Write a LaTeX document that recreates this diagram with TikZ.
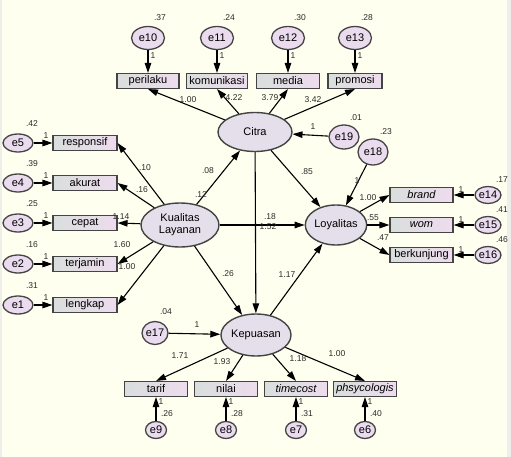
\documentclass[tikz,border=0pt]{standalone}
\usepackage{fontspec}
\setmainfont{Liberation Sans}
\usetikzlibrary{arrows.meta,shapes.geometric}
\definecolor{bgivory}{HTML}{FFFFF0}
\definecolor{rimgrey}{HTML}{EEEEEA}
\definecolor{latfill}{HTML}{E4DFEA}
\definecolor{errfill}{HTML}{EADCEE}
\definecolor{boxgrey}{HTML}{D9DEDC}
\definecolor{boxpink}{HTML}{EEDCEE}
\definecolor{edgegrey}{HTML}{444444}
\definecolor{esttext}{HTML}{2A2A2A}
\begin{document}
\begin{tikzpicture}[x=1pt,y=-1pt,>={Triangle[length=10pt,width=6.5pt]},
  latent/.style={ellipse,draw=edgegrey,line width=1.4pt,fill=latfill,inner sep=0pt,
    minimum width=74pt,minimum height=39pt,align=center,font=\fontsize{11}{12}\selectfont},
  err/.style={ellipse,draw=edgegrey,line width=1.3pt,fill=errfill,inner sep=0pt,
    font=\fontsize{11}{11}\selectfont},
  obs/.style={rectangle,draw=edgegrey,line width=1.1pt,left color=boxgrey,right color=boxpink,
    inner sep=0pt,minimum width=63pt,minimum height=15pt,font=\fontsize{11}{11}\selectfont},
  est/.style={font=\fontsize{8.5}{9}\selectfont,text=esttext,inner sep=0pt},
  link/.style={->,line width=1.1pt}]
\fill[bgivory] (0,0) rectangle (511,457);
\fill[rimgrey] (507,0) rectangle (511,457);
\fill[rimgrey] (0,0) rectangle (2,457);
\useasboundingbox (0,0) rectangle (511,457);

% latent variables
\node[latent] (citra) at (255,132) {Citra};
\node[latent,minimum width=78pt,minimum height=44pt] (kual) at (180,225) {Kualitas\\Layanan};
\node[latent,minimum width=60pt,minimum height=40pt] (loyal) at (336,225) {Loyalitas};
\node[latent,minimum width=69pt,minimum height=42pt] (kepuas) at (256,335) {Kepuasan};

% citra indicators
\foreach \b/\n/\x/\w/\v in {perilaku/10/148/62/.37,komunikasi/11/217/61/.24,media/12/288/63/.30,promosi/13/355/54/.28}{
  \node[obs,minimum width=\w pt] (\b) at (\x,81) {\b};
  \node[err,minimum width=33pt,minimum height=23pt] (e\n) at (\x,38) {e\n};
  \node[est] (v\n) at (\x+12,18) {\v};
  \node[est] (one\n) at (\x+5,56) {1};
  \draw[link] (e\n) -- (\b);
  \draw[link] (citra) -- (\b.south);
}

% kualitas layanan indicators
\foreach \b/\n/\y/\v in {responsif/5/143/.42,akurat/4/183/.39,cepat/3/223/.25,terjamin/2/264/.16,lengkap/1/305/.31}{
  \node[obs,minimum width=64pt] (\b) at (85,\y) {\b};
  \node[err,minimum width=30pt,minimum height=18pt] (e\n) at (18,\y) {e\n};
  \node[est] (v\n) at (32,\y-19) {\v};
  \node[est] (one\n) at (46,\y-7) {1};
  \draw[link] (e\n) -- (\b);
  \draw[link] (kual) -- (\b.east);
}

% loyalitas indicators
\foreach \b/\n/\y/\v/\s in {brand/14/195/.17/\itshape,wom/15/225/.41/\itshape,berkunjung/16/255/.46/}{
  \node[obs] (\b) at (421.5,\y) {\s\b};
  \node[err,minimum width=24pt,minimum height=17pt] (e\n) at (488,\y) {e\n};
  \node[est] (v\n) at (502,\y-15) {\v};
  \node[est] (one\n) at (461,\y-5) {1};
  \draw[link] (e\n) -- (\b);
  \draw[link] (loyal) -- (\b.west);
}

% kepuasan indicators
\foreach \b/\n/\x/\v/\s in {tarif/9/156/.26/,nilai/8/226/.28/,timecost/7/296/.31/\itshape,phsycologis/6/365/.40/\itshape}{
  \node[obs] (\b) at (\x,389) {\s\b};
  \node[err,minimum width=21pt,minimum height=17pt] (e\n) at (\x,430) {e\n};
  \node[est] (v\n) at (\x+11,414) {\v};
  \node[est] (one\n) at (\x+5,402) {1};
  \draw[link] (e\n) -- (\b);
  \draw[link] (kepuas) -- (\b.north);
}

% disturbances
\node[err,minimum width=30pt,minimum height=24pt] (e19) at (344,137) {e19};
\node[err,minimum width=30pt,minimum height=26pt] (e18) at (373,152) {e18};
\node[err,minimum width=24pt,minimum height=23pt] (e17) at (155,333) {e17};
\draw[link] (e19) -- (citra);
\draw[link] (e18) -- (loyal);
\draw[link] (e17) -- (kepuas);

% structural paths
\draw[link] (kual) -- (citra);
\draw[link] (kual) -- (loyal);
\draw[link] (kual) -- (kepuas);
\draw[link] (citra) -- (loyal);
\draw[link] (citra) -- (kepuas);
\draw[link] (kepuas) -- (loyal);

% estimates
\node[est] (l1) at (188,100) {1.00};
\node[est] (l2) at (234,98) {4.22};
\node[est] (l3) at (270,98) {3.79};
\node[est] (l4) at (313,100) {3.42};
\node[est] (l5) at (145,168) {.10};
\node[est] (l6) at (142,190) {.16};
\node[est] (l7) at (121,217) {1.14};
\node[est] (l8) at (122,245) {1.60};
\node[est] (l9) at (127,267) {1.00};
\node[est] (l10) at (208,171) {.08};
\node[est] (l11) at (201,195) {.12};
\node[est] (l12) at (228,274) {.26};
\node[est] (l13) at (270,217) {.18};
\node[est] (l14) at (268,227) {1.52};
\node[est] (l15) at (287,275) {1.17};
\node[est] (l16) at (307,172) {.85};
\node[est] (v19) at (356,118) {.01};
\node[est] (one19) at (313,127) {1};
\node[est] (v18) at (386,132) {.23};
\node[est] (one18) at (357,181) {1};
\node[est] (l17) at (368,198) {1.00};
\node[est] (l18) at (373,218) {.55};
\node[est] (l19) at (383,238) {.47};
\node[est] (v17) at (166,312) {.04};
\node[est] (one17) at (197,325) {1};
\node[est] (l20) at (180,356) {1.71};
\node[est] (l21) at (222,362) {1.93};
\node[est] (l22) at (298,359) {1.18};
\node[est] (l23) at (337,354) {1.00};
\end{tikzpicture}
\end{document}
